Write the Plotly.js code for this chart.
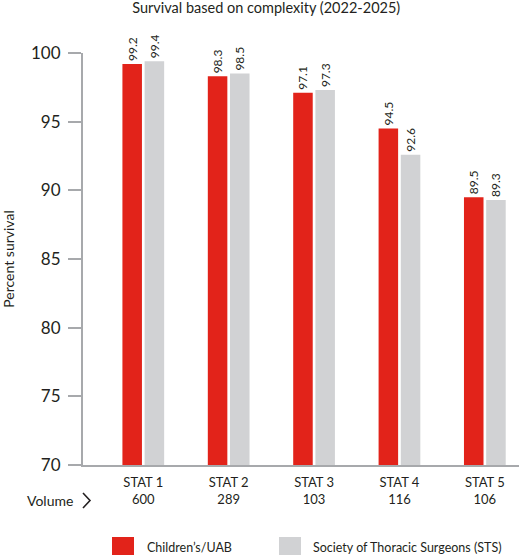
<!DOCTYPE html>
<html>
<head>
<meta charset="utf-8">
<script src="https://cdn.plot.ly/plotly-3.0.1.min.js"></script>
<style>
  html, body { margin: 0; padding: 0; background: #ffffff; }
  #chart { width: 519px; height: 555px; }
</style>
</head>
<body>
<div id="chart"></div>
<script>
// ---- data ----
const categories = ["STAT 1", "STAT 2", "STAT 3", "STAT 4", "STAT 5"];
const volumes = [600, 289, 103, 116, 106];
const uabValues = [99.2, 98.3, 97.1, 94.5, 89.5];
const stsValues = [99.4, 98.5, 97.3, 92.6, 89.3];
const seriesNames = ["Children\u2019s/UAB", "Society of Thoracic Surgeons (STS)"];
const yTicks = [70, 75, 80, 85, 90, 95, 100];

// ---- styling ----
const RED = "#E2231A";
const GRAY = "#D1D2D4";
const AXIS = "#A7A9AC";
const TEXT = "#231F20";
const FONT = "Lato, 'Open Sans', sans-serif";

const W = 519, H = 555;
const M = { l: 83, r: 0, t: 53, b: 90 };
const plotW = W - M.l - M.r;
const plotH = H - M.t - M.b;
// convert pixel coordinates to paper coordinates (for decorations only)
const px = x => (x - M.l) / plotW;
const py = y => (H - M.b - y) / plotH;

const tickText = categories.map((c, i) => c + "<br>" + volumes[i]);

function barTrace(vals, name, color) {
  return {
    type: "bar",
    name: name,
    x: categories,
    y: vals,
    marker: { color: color, line: { width: 0 } },
    text: vals.map(v => v.toFixed(1)),
    textposition: "outside",
    textangle: -90,
    constraintext: "none",
    cliponaxis: false,
    textfont: { family: FONT, size: 12, color: TEXT },
    hoverinfo: "x+y+name",
    showlegend: false
  };
}

const data = [
  barTrace(uabValues, seriesNames[0], RED),
  barTrace(stsValues, seriesNames[1], GRAY)
];

const layout = {
  width: W,
  height: H,
  margin: M,
  paper_bgcolor: "#ffffff",
  plot_bgcolor: "#ffffff",
  font: { family: FONT, color: TEXT },
  barmode: "group",
  bargap: 0.48,
  bargroupgap: 0.12,
  title: {
    text: "Survival based on complexity (2022-2025)",
    font: { family: FONT, size: 14.5, color: TEXT },
    xref: "container", x: 0.513, xanchor: "center",
    yref: "container", y: 1 - 8 / H, yanchor: "middle"
  },
  xaxis: {
    type: "category",
    categoryarray: categories,
    range: [-0.706, 4.40],
    tickmode: "array",
    tickvals: categories,
    ticktext: tickText,
    ticks: "",
    showgrid: false,
    zeroline: false,
    showline: true,
    linecolor: AXIS,
    linewidth: 2,
    tickfont: { family: FONT, size: 13, color: TEXT },
    ticklabelstandoff: 4,
    fixedrange: true
  },
  yaxis: {
    range: [70, 100],
    tickmode: "array",
    tickvals: yTicks,
    ticktext: yTicks.map(String),
    ticks: "outside",
    ticklen: 13,
    tickwidth: 2,
    tickcolor: AXIS,
    showgrid: false,
    zeroline: false,
    showline: true,
    linecolor: AXIS,
    linewidth: 2,
    tickfont: { family: FONT, size: 17, color: TEXT },
    ticklabelstandoff: 4,
    title: {
      text: "Percent survival",
      font: { family: FONT, size: 14, color: TEXT },
      standoff: 13
    },
    automargin: false,
    fixedrange: true
  },
  shapes: [
    // chevron next to "Volume"
    {
      type: "path", xref: "paper", yref: "paper",
      path: `M ${px(83)} ${py(493)} L ${px(90)} ${py(500.5)} L ${px(83)} ${py(508)}`,
      line: { color: TEXT, width: 1.6 }
    },
    // legend swatches
    {
      type: "rect", xref: "paper", yref: "paper",
      x0: px(112), x1: px(134), y0: py(555), y1: py(537),
      fillcolor: RED, line: { width: 0 }
    },
    {
      type: "rect", xref: "paper", yref: "paper",
      x0: px(279), x1: px(301), y0: py(555), y1: py(537),
      fillcolor: GRAY, line: { width: 0 }
    }
  ],
  annotations: [
    {
      text: "Volume", xref: "paper", yref: "paper",
      x: px(25), y: py(500), xanchor: "left", yanchor: "middle",
      showarrow: false, font: { family: FONT, size: 14, color: TEXT }
    },
    {
      text: seriesNames[0], xref: "paper", yref: "paper",
      x: px(145), y: py(547), xanchor: "left", yanchor: "middle",
      showarrow: false, font: { family: FONT, size: 12.5, color: TEXT }
    },
    {
      text: seriesNames[1], xref: "paper", yref: "paper",
      x: px(311), y: py(547), xanchor: "left", yanchor: "middle",
      showarrow: false, font: { family: FONT, size: 12.5, color: TEXT }
    }
  ]
};

Plotly.newPlot("chart", data, layout, { displayModeBar: false, responsive: false, staticPlot: true });
</script>
</body>
</html>
